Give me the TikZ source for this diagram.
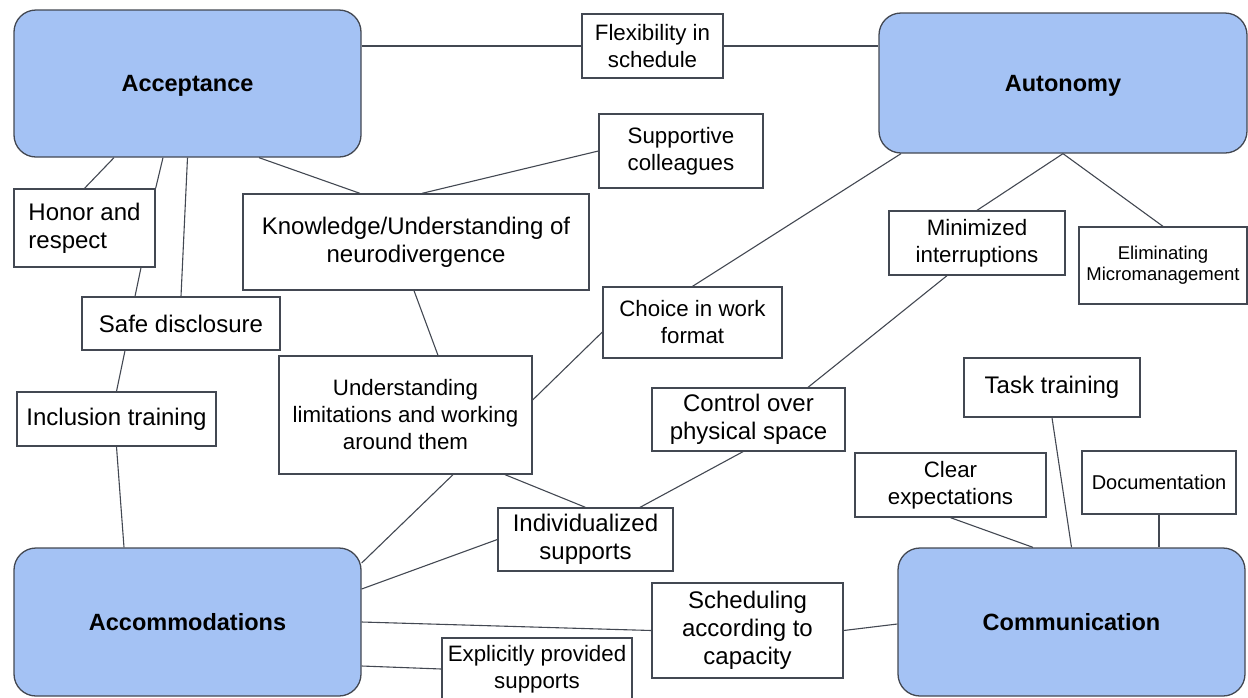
\documentclass[tikz,border=0pt]{standalone}
\usepackage{fontspec}
\setmainfont{Liberation Sans}
\definecolor{themefill}{RGB}{164,194,244}
\definecolor{edge}{RGB}{67,72,82}

\begin{document}
\begin{tikzpicture}[x=1pt,y=-1pt,
  theme/.style={draw=edge,line width=1.3pt,fill=themefill,rounded corners=22pt,inner sep=0pt,
    text height=21pt,text depth=5pt,font=\fontsize{23.5}{28}\selectfont\bfseries},
  factor/.style={draw=edge,line width=1.3pt,fill=white,inner sep=0pt,align=center,
    font=\fontsize{24}{28}\selectfont},
  minor/.style={font=\fontsize{22.3}{27}\selectfont},
  link/.style={draw=edge,line width=1.1pt}]
\useasboundingbox (0,0) rectangle (1248,697);

% the four themes
\node[theme,minimum width=347pt,minimum height=147pt] (accept) at (187.5,83.5) {Acceptance};
\node[theme,minimum width=368pt,minimum height=140pt] (auto) at (1063,83) {Autonomy};
\node[theme,minimum width=347pt,minimum height=148pt] (accom) at (187.5,622) {Accommodations};
\node[theme,minimum width=347pt,minimum height=148pt] (comm) at (1071.5,622) {Communication};

% factors
\node[factor,minor,minimum width=141pt,minimum height=64pt] (flex) at (652.5,46) {Flexibility in\\schedule};
\node[factor,minor,minimum width=164pt,minimum height=74pt] (supp) at (681,151) {Supportive\\colleagues};
\node[factor,minimum width=141pt,minimum height=78pt,align=left] (honor) at (84.5,228) {Honor and\\respect};
\node[factor,minimum width=346pt,minimum height=96pt] (know) at (416,242) {Knowledge/Understanding of\\neurodivergence};
\node[factor,minimum width=198pt,minimum height=53pt] (safe) at (181,323.5) {Safe disclosure};
\node[factor,minimum width=199pt,minimum height=54pt] (incl) at (116.5,419) {Inclusion training};
\node[factor,minor,minimum width=253pt,minimum height=118pt] (under) at (405.5,415) {Understanding\\limitations and working\\around them};
\node[factor,minor,minimum width=179pt,minimum height=71pt] (choice) at (692.5,322.5) {Choice in work\\format};
\node[factor,minor,minimum width=176pt,minimum height=64pt] (minim) at (977,243) {Minimized\\interruptions};
\node[factor,minimum width=168pt,minimum height=77pt,font=\fontsize{18.5}{21}\selectfont] (elim) at (1163,265.5) {Eliminating\\Micromanagement};
\node[factor,minimum width=193pt,minimum height=63pt] (ctrl) at (748.5,419.5) {Control over\\physical space};
\node[factor,minimum width=175pt,minimum height=63pt] (indiv) at (585.5,539.5) {Individualized\\supports};
\node[factor,minimum width=191pt,minimum height=95pt] (sched) at (747.5,630.5) {Scheduling\\according to\\capacity};
\node[factor,minor,minimum width=190pt,minimum height=62pt] (expl) at (537,669) {Explicitly provided\\supports};
\node[factor,minimum width=176pt,minimum height=59pt] (task) at (1052,387.5) {Task training};
\node[factor,minor,minimum width=191pt,minimum height=64pt] (clear) at (950.5,485) {Clear\\expectations};
\node[factor,minimum width=154pt,minimum height=63pt,font=\fontsize{20}{24}\selectfont] (doc) at (1159,482.5) {Documentation};

% links
\draw[link] (accept.east |- flex.west) -- (flex.west);
\draw[link] (flex.east) -- (flex.east -| auto.west);
\draw[link] ([xshift=-73.5pt]accept.south) -- (honor.north);
\draw[link] ([xshift=-24.5pt]accept.south) -- (honor.north east);
\draw[link] ([xshift=56.5pt]honor.south) -- ([xshift=-46pt]safe.north);
\draw[link] (accept.south) -- (safe.north);
\draw[link] ([xshift=-56pt]safe.south) -- (incl.north);
\draw[link] (incl.south) -- ([xshift=-63.5pt]accom.north);
\draw[link] ([xshift=71.5pt]accept.south) -- ([xshift=-56pt]know.north);
\draw[link] ([xshift=6pt]know.north) -- (supp.west);
\draw[link] ([xshift=-2pt]know.south) -- ([xshift=32.5pt]under.north);
\draw[link] ([yshift=15pt]under.east) -- ([yshift=-9.5pt]choice.west);
\draw[link] (choice.north) -- ([xshift=-162pt]auto.south);
\draw[link] (auto.south) -- (minim.north);
\draw[link] (auto.south) -- (elim.north);
\draw[link] ([xshift=-30pt]minim.south) -- ([xshift=59.5pt]ctrl.north);
\draw[link] ([xshift=-5.5pt]ctrl.south) -- ([xshift=54.5pt]indiv.north);
\draw[link] ([xshift=99.5pt]under.south) -- (indiv.north);
\draw[link] ([xshift=47.5pt]under.south) -- ([yshift=59pt]accom.east);
\draw[link] (indiv.west) -- ([yshift=33pt]accom.east);
\draw[link] (accom.east) -- (sched.west);
\draw[link] ([yshift=-44pt]accom.east) -- (expl.west);
\draw[link] (sched.east) -- ([yshift=-2pt]comm.west);
\draw[link] (clear.south) -- ([xshift=-38.5pt]comm.north);
\draw[link] (task.south) -- (comm.north);
\draw[link] (doc.south) -- (doc.south |- comm.north);
\end{tikzpicture}
\end{document}
